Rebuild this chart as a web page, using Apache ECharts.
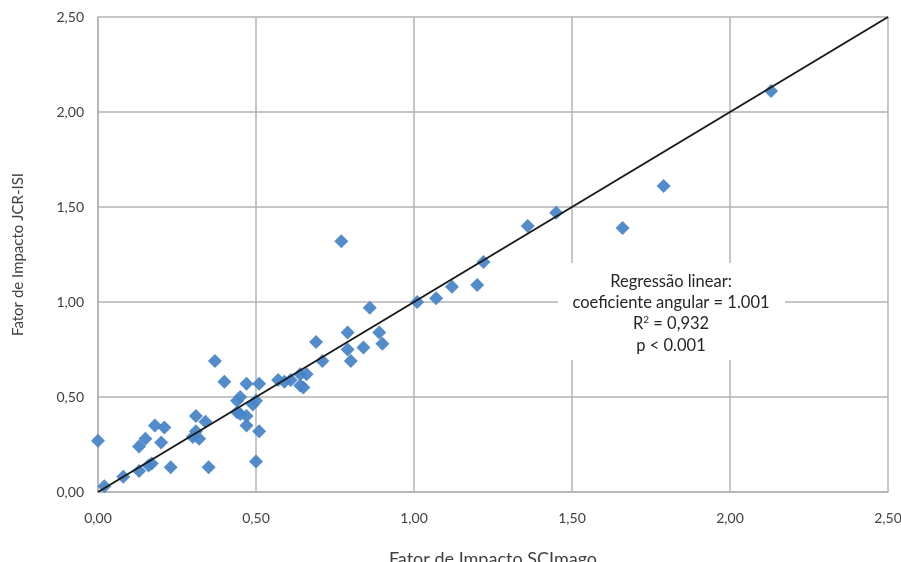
<!DOCTYPE html>
<html>
<head>
<meta charset="utf-8">
<script src="https://cdn.jsdelivr.net/npm/echarts@6/dist/echarts.min.js"></script>
<style>html,body{margin:0;padding:0;background:#fff;overflow:hidden}#c{width:901px;height:562px}</style>
</head>
<body>
<div id="c"></div>
<script>
var xVals = [0.00,0.02,0.08,0.13,0.16,0.17,0.23,0.13,0.15,0.18,0.21,0.20,0.31,0.34,0.30,0.31,0.32,0.35,0.37,0.40,0.47,0.51,0.45,0.44,0.44,0.45,0.47,0.47,0.49,0.50,0.51,0.50,0.57,0.59,0.61,0.64,0.66,0.64,0.65,0.71,0.69,0.77,0.86,0.79,0.89,0.90,0.79,0.84,0.80,1.01,1.07,1.12,1.20,1.22,1.36,1.45,1.66,1.79,2.13];
var yVals = [0.27,0.03,0.08,0.11,0.14,0.15,0.13,0.24,0.28,0.35,0.34,0.26,0.40,0.37,0.29,0.32,0.28,0.13,0.69,0.58,0.57,0.57,0.50,0.48,0.42,0.41,0.40,0.35,0.46,0.48,0.32,0.16,0.59,0.58,0.59,0.62,0.62,0.56,0.55,0.69,0.79,1.32,0.97,0.84,0.84,0.78,0.75,0.76,0.69,1.00,1.02,1.08,1.09,1.21,1.40,1.47,1.39,1.61,2.11];
var trendX = [0.00, 2.50];
var trendY = [0.00, 2.50];
var axisTicks = [0, 0.5, 1, 1.5, 2, 2.5];
var annotationLines = ['Regressão linear:', 'coeficiente angular = 1.001', 'R{sup|2} = 0,932', 'p < 0.001'];

var points = xVals.map(function (x, i) { return [x, yVals[i]]; });
var trend = trendX.map(function (x, i) { return [x, trendY[i]]; });
var fmt = function (v) { return v.toFixed(2).replace('.', ','); };
var FONT = 'Lato';

var chart = echarts.init(document.getElementById('c'));

var axisCommon = {
  type: 'value', min: axisTicks[0], max: axisTicks[axisTicks.length - 1], interval: 0.5,
  axisLine: { show: true, lineStyle: { color: '#b3b3b3', width: 1.5 } },
  axisTick: { show: false },
  splitLine: { show: true, lineStyle: { color: '#b3b3b3', width: 1.5 } },
  axisLabel: { formatter: fmt, color: '#404040', fontFamily: FONT, fontSize: 14 },
  nameLocation: 'middle',
  nameTextStyle: { color: '#404040', fontFamily: FONT, fontSize: 15 }
};

var graphics = [{
  type: 'rect', z: 10, silent: true,
  shape: { x: 558, y: 263, width: 227, height: 97 },
  style: { fill: '#ffffff' }
}];
var lineY = [282, 303, 324, 346];
annotationLines.forEach(function (t, i) {
  graphics.push({
    type: 'text', z: 11, silent: true,
    style: {
      x: 671, y: lineY[i], text: t, align: 'center', verticalAlign: 'middle',
      fill: '#262626', font: '16.5px ' + FONT,
      rich: { sup: { fontSize: 10, fontFamily: FONT, fill: '#262626', padding: [0, 0, 9, 0] } }
    }
  });
});

chart.setOption({
  animation: false,
  grid: { left: 98, right: 13, top: 17, bottom: 70, containLabel: false, outerBoundsMode: 'none' },
  xAxis: Object.assign({}, axisCommon, {
    name: 'Fator de Impacto SCImago', nameGap: 58,
    nameTextStyle: { color: '#404040', fontFamily: FONT, fontSize: 18 },
    axisLabel: Object.assign({}, axisCommon.axisLabel, { margin: 19 })
  }),
  yAxis: Object.assign({}, axisCommon, {
    name: 'Fator de Impacto JCR-ISI', nameGap: 72,
    axisLabel: Object.assign({}, axisCommon.axisLabel, { margin: 14 })
  }),
  series: [
    {
      type: 'scatter', data: points, symbol: 'diamond', symbolSize: [14, 14],
      itemStyle: { color: '#4a86c8', opacity: 0.95 }, z: 2
    },
    {
      type: 'line', data: trend, symbol: 'none', z: 3,
      lineStyle: { color: '#1a1a1a', width: 2 }
    }
  ],
  graphic: graphics
});
</script>
</body>
</html>
